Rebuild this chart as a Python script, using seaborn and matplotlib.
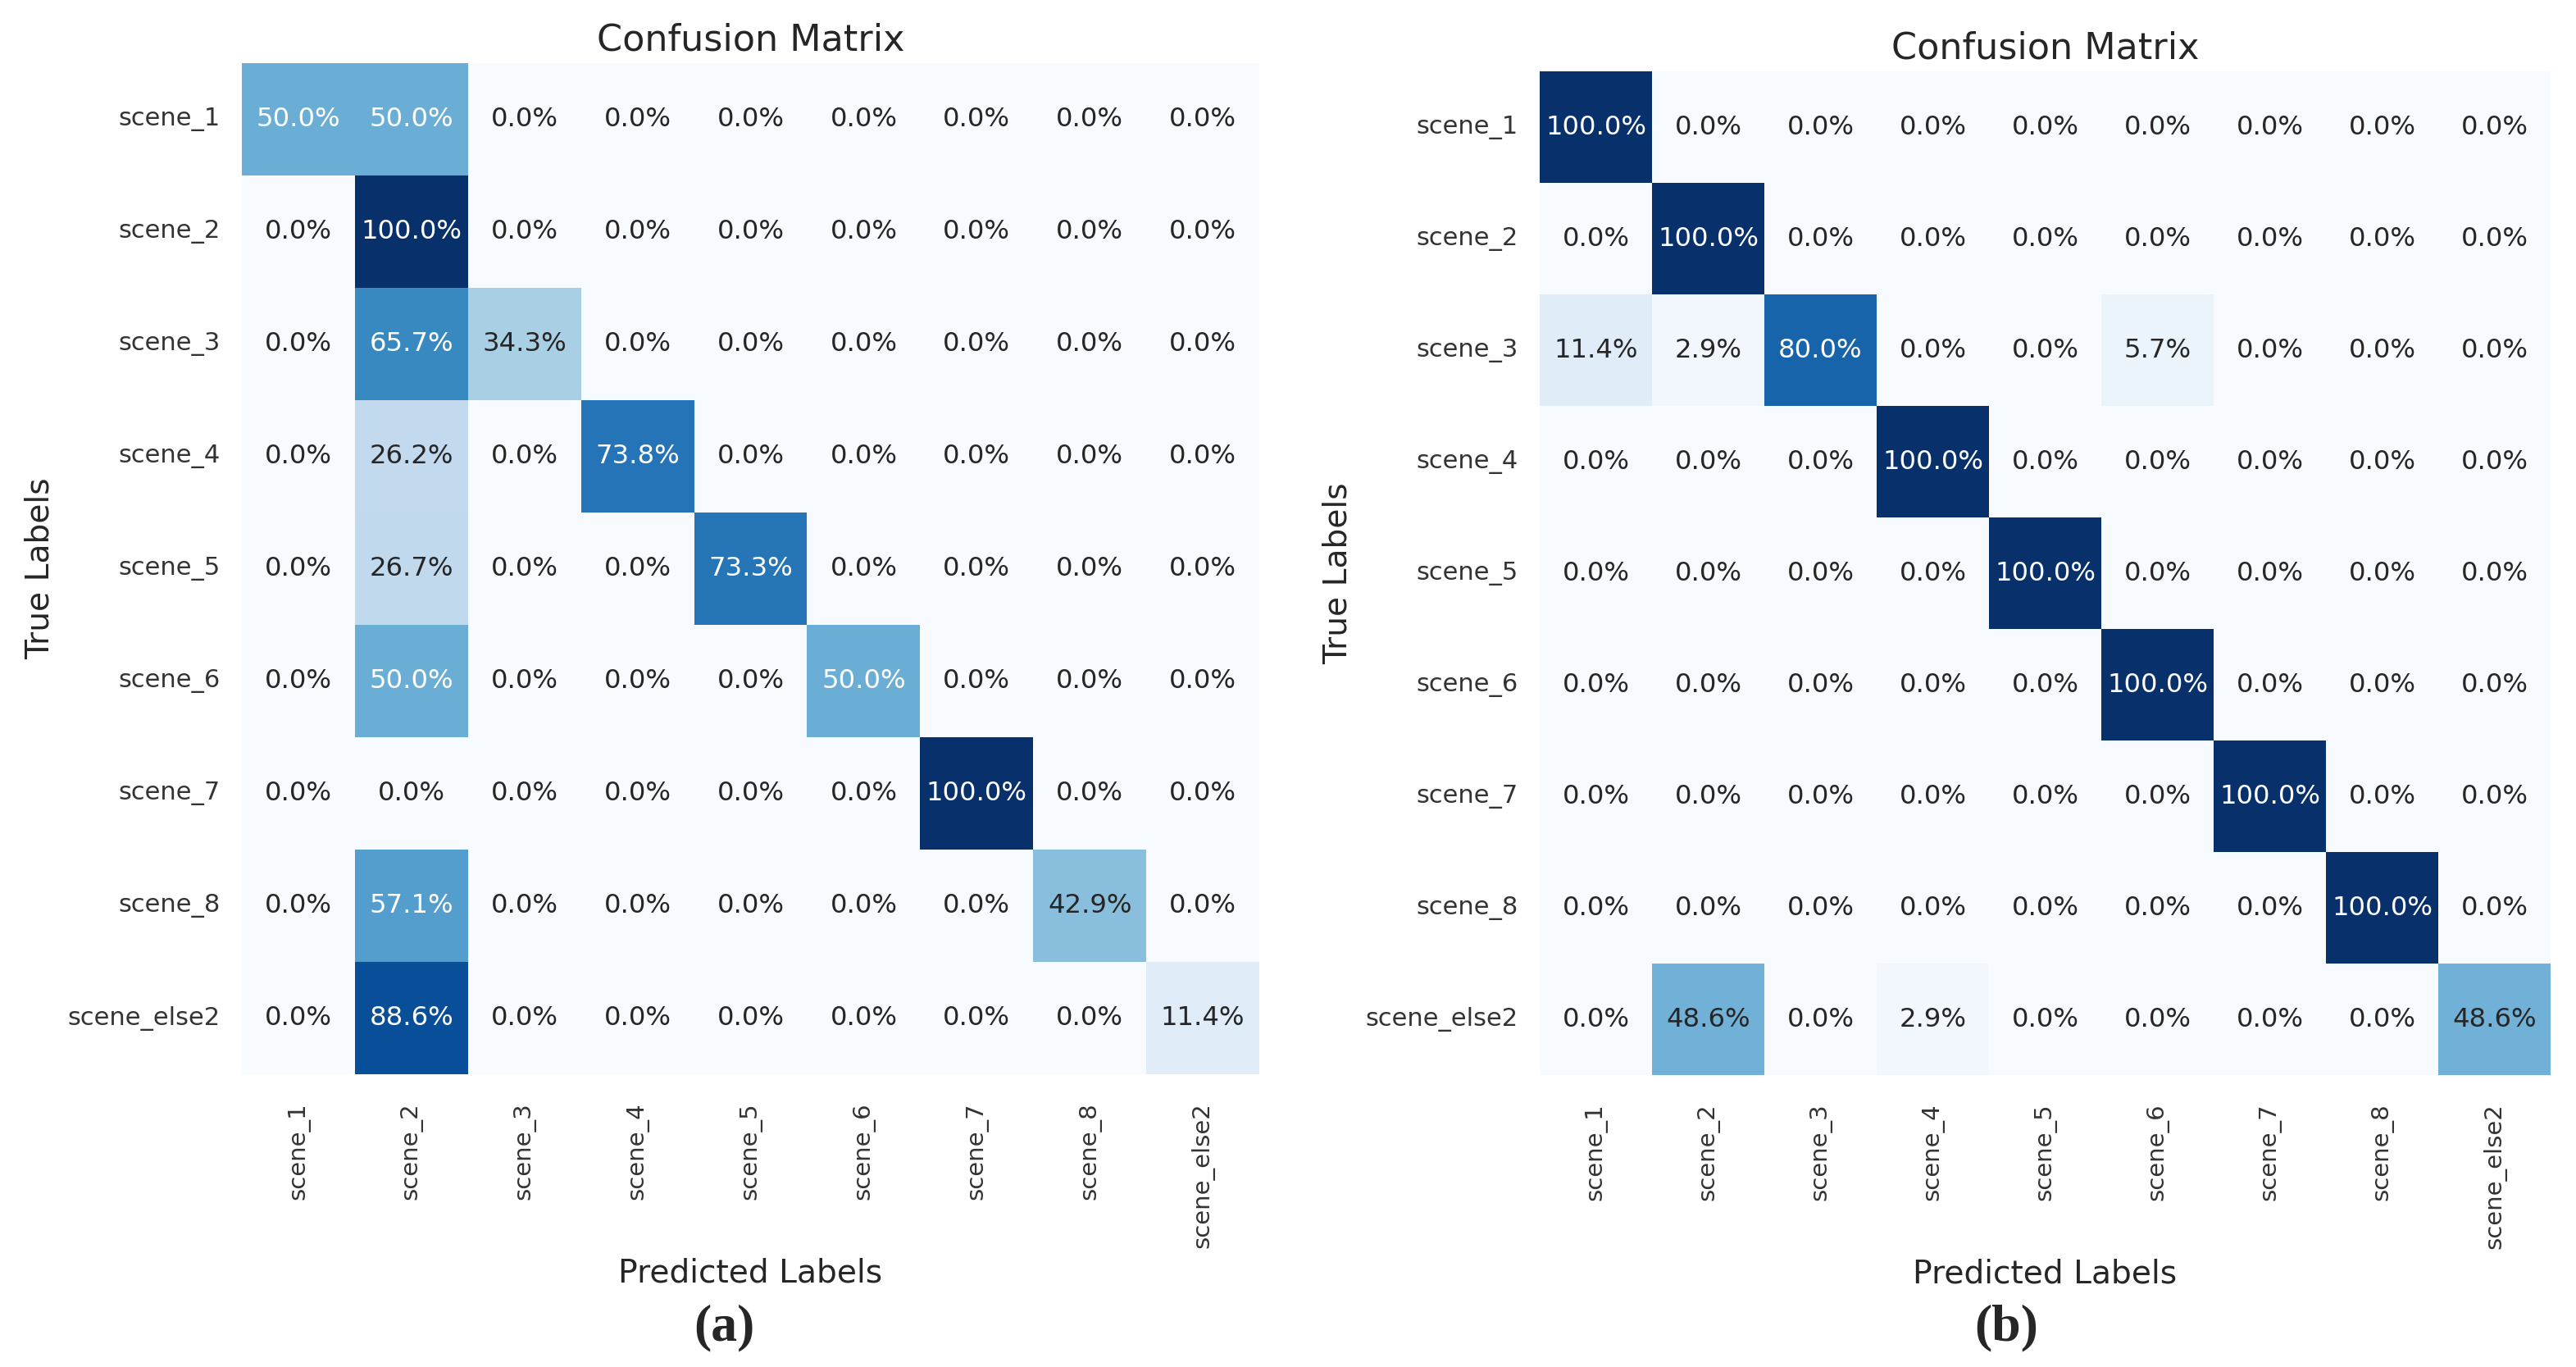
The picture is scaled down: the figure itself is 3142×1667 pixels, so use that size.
import numpy as np
import matplotlib
matplotlib.use("Agg")
import matplotlib.pyplot as plt
import seaborn as sns

# class names (same for both panels)
labels = ["scene_1", "scene_2", "scene_3", "scene_4", "scene_5",
          "scene_6", "scene_7", "scene_8", "scene_else2"]

# row-normalised confusion matrices, in percent
cm_a = [
    [50.0, 50.0, 0.0, 0.0, 0.0, 0.0, 0.0, 0.0, 0.0],
    [0.0, 100.0, 0.0, 0.0, 0.0, 0.0, 0.0, 0.0, 0.0],
    [0.0, 65.7, 34.3, 0.0, 0.0, 0.0, 0.0, 0.0, 0.0],
    [0.0, 26.2, 0.0, 73.8, 0.0, 0.0, 0.0, 0.0, 0.0],
    [0.0, 26.7, 0.0, 0.0, 73.3, 0.0, 0.0, 0.0, 0.0],
    [0.0, 50.0, 0.0, 0.0, 0.0, 50.0, 0.0, 0.0, 0.0],
    [0.0, 0.0, 0.0, 0.0, 0.0, 0.0, 100.0, 0.0, 0.0],
    [0.0, 57.1, 0.0, 0.0, 0.0, 0.0, 0.0, 42.9, 0.0],
    [0.0, 88.6, 0.0, 0.0, 0.0, 0.0, 0.0, 0.0, 11.4],
]

cm_b = [
    [100.0, 0.0, 0.0, 0.0, 0.0, 0.0, 0.0, 0.0, 0.0],
    [0.0, 100.0, 0.0, 0.0, 0.0, 0.0, 0.0, 0.0, 0.0],
    [11.4, 2.9, 80.0, 0.0, 0.0, 5.7, 0.0, 0.0, 0.0],
    [0.0, 0.0, 0.0, 100.0, 0.0, 0.0, 0.0, 0.0, 0.0],
    [0.0, 0.0, 0.0, 0.0, 100.0, 0.0, 0.0, 0.0, 0.0],
    [0.0, 0.0, 0.0, 0.0, 0.0, 100.0, 0.0, 0.0, 0.0],
    [0.0, 0.0, 0.0, 0.0, 0.0, 0.0, 100.0, 0.0, 0.0],
    [0.0, 0.0, 0.0, 0.0, 0.0, 0.0, 0.0, 100.0, 0.0],
    [0.0, 48.6, 0.0, 2.9, 0.0, 0.0, 0.0, 0.0, 48.6],
]

W, H = 3142, 1667
DPI = 200

sns.set_theme(style="white")
plt.rcParams["font.family"] = ["DejaVu Sans"]

fig = plt.figure(figsize=(W / DPI, H / DPI), dpi=DPI)

# axes boxes in pixels: left, top, right, bottom
boxes = [(295, 77, 1536, 1310), (1878, 87, 3111, 1311)]


def draw_cm(ax, cm):
    data = np.array(cm)
    annot = np.array([[f"{v:.1f}%" for v in row] for row in data])
    sns.heatmap(data, ax=ax, annot=annot, fmt="", cmap="Blues",
                vmin=0, vmax=100, cbar=False,
                xticklabels=labels, yticklabels=labels,
                annot_kws={"fontsize": 11.6})
    # white text on the darker cells only
    for t, v in zip(ax.texts, data.flatten()):
        t.set_color("white" if v >= 49.5 else ".15")
    ax.set_title("Confusion Matrix", fontsize=16, pad=5.5, color=".15")
    ax.set_xlabel("Predicted Labels", fontsize=14.1, labelpad=4, color=".15")
    ax.set_ylabel("True Labels", fontsize=14.1, labelpad=5.5, color=".15")
    ax.tick_params(axis="x", length=0, pad=12.5, labelsize=10.5,
                   labelrotation=90, labelcolor=".2")
    ax.tick_params(axis="y", length=0, pad=9.5, labelsize=11,
                   labelrotation=0, labelcolor=".2")


for (l, t, r, b), cm in zip(boxes, [cm_a, cm_b]):
    ax = fig.add_axes([l / W, 1 - b / H, (r - l) / W, (b - t) / H])
    draw_cm(ax, cm)

# panel tags
for x, tag in [(883, "(a)"), (2447, "(b)")]:
    fig.text(x / W, 1 - 1619 / H, tag, ha="center", va="center",
             fontsize=23, fontweight="bold", family="Liberation Serif")

fig.savefig("out.png", dpi=DPI, facecolor="white")
